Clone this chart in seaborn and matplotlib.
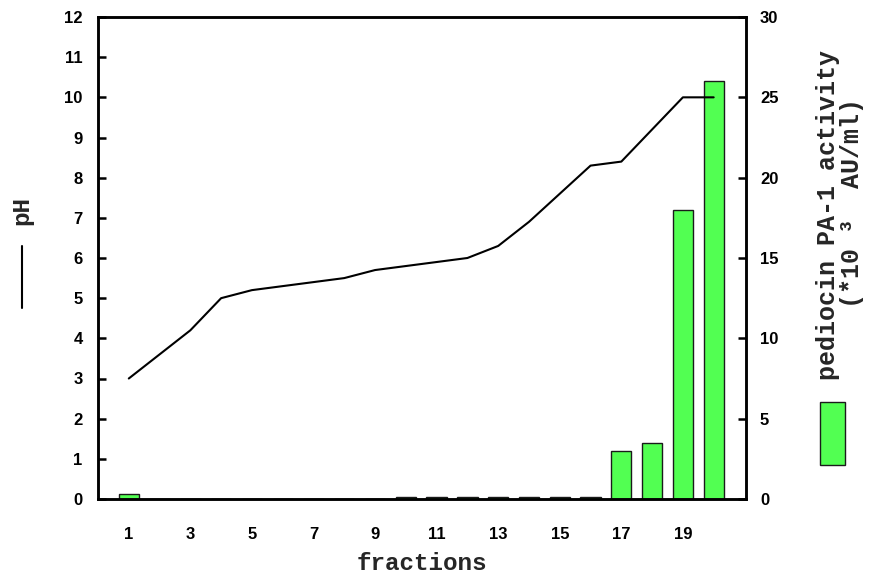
import matplotlib
matplotlib.use("Agg")
import matplotlib.pyplot as plt
from matplotlib.lines import Line2D
from matplotlib.patches import Rectangle
import seaborn as sns
import pandas as pd

# Fractions collected from the column
fractions = list(range(1, 21))
# pH of each fraction (left axis)
ph = [3.0, 3.6, 4.2, 5.0, 5.2, 5.3, 5.4, 5.5, 5.7, 5.8,
      5.9, 6.0, 6.3, 6.9, 7.6, 8.3, 8.4, 9.2, 10.0, 10.0]
# pediocin PA-1 activity, x10^3 AU/ml (right axis)
activity = [0.3, 0.02, 0.0, 0.0, 0.0, 0.0, 0.0, 0.02, 0.02, 0.1,
            0.1, 0.1, 0.1, 0.1, 0.1, 0.1, 3.0, 3.5, 18.0, 26.0]
xtick_labels = [1, 3, 5, 7, 9, 11, 13, 15, 17, 19]

df = pd.DataFrame({"fraction": fractions, "pH": ph, "activity": activity})

sns.set_theme(style="white")
plt.rcParams["font.family"] = ["Liberation Sans", "DejaVu Sans"]

W, H = 869, 578
fig = plt.figure(figsize=(W / 100, H / 100), dpi=100)
ax_ph = fig.add_axes([98 / W, 1 - 499 / H, (746 - 98) / W, (499 - 17) / H])
ax_act = ax_ph.twinx()

bar_green = "#52FF52"
sns.barplot(data=df, x="fraction", y="activity", native_scale=True,
            color=bar_green, saturation=1, width=0.66,
            edgecolor="#1a1a1a", linewidth=1.0, ax=ax_act)
sns.lineplot(data=df, x="fraction", y="pH", color="black",
             linewidth=1.5, ax=ax_ph)

# draw the pH curve above the bars
ax_ph.set_zorder(ax_act.get_zorder() + 1)
ax_ph.patch.set_visible(False)

ax_ph.set_xlim(0, 21.05)
ax_act.set_xlim(0, 21.05)
ax_ph.set_ylim(0, 12)
ax_act.set_ylim(0, 30)
ax_ph.set_yticks(range(0, 13))
ax_act.set_yticks(range(0, 31, 5))
ax_ph.set_xticks(xtick_labels)
ax_ph.set_xticklabels([str(v) for v in xtick_labels])

for lab in ax_ph.get_yticklabels() + ax_ph.get_xticklabels() + ax_act.get_yticklabels():
    lab.set_fontsize(12)
    lab.set_fontweight("bold")

ax_ph.tick_params(axis="y", direction="in", length=6, width=1.8,
                  pad=11, left=True, right=False, colors="black")
ax_act.tick_params(axis="y", direction="in", length=6, width=1.8,
                   pad=10, right=True, left=False, colors="black")
ax_ph.tick_params(axis="x", length=0, pad=20, colors="black")
ax_act.tick_params(axis="x", length=0)

for a in (ax_ph, ax_act):
    for s in a.spines.values():
        s.set_visible(True)
        s.set_color("black")
        s.set_linewidth(1.8)
    a.set_xlabel("")
    a.set_ylabel("")
    a.grid(False)

mono = dict(family=["Liberation Mono", "DejaVu Sans Mono"], fontweight="bold")

ax_ph.set_xlabel("fractions", fontsize=17.5, labelpad=7, **mono)

# left axis key: "pH" with its line sample
fig.text(22 / W, 1 - 211 / H, "pH", rotation=90, ha="center", va="center",
         fontsize=17.5, **mono)
fig.add_artist(Line2D([22 / W, 22 / W], [1 - 246 / H, 1 - 308 / H],
                      color="black", linewidth=1.5,
                      transform=fig.transFigure))

# right axis key: activity label with the bar swatch
fig.text(828 / W, 1 - 215 / H, "pediocin PA-1 activity", rotation=90,
         ha="center", va="center", fontsize=18, **mono)
fig.text(852 / W, 1 - 203 / H, "(*10 ³  AU/ml)", rotation=90,
         ha="center", va="center", fontsize=18, **mono)
fig.add_artist(Rectangle((820 / W, 1 - 465 / H), 25 / W, 63 / H,
                         facecolor=bar_green, edgecolor="#1a1a1a",
                         linewidth=1.0, transform=fig.transFigure))

fig.savefig("out.png", dpi=100)
